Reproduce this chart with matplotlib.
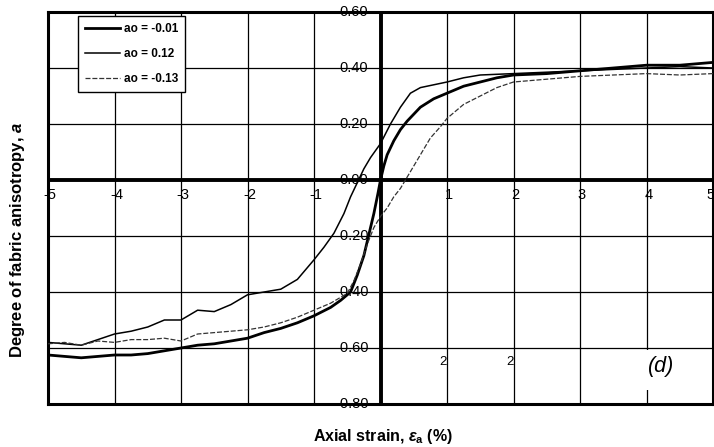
import matplotlib
matplotlib.use("Agg")
from matplotlib import pyplot as plt
from matplotlib import transforms
from matplotlib.patches import Rectangle

plt.rcParams['font.family'] = ['Liberation Sans', 'DejaVu Sans']
plt.rcParams['mathtext.fontset'] = 'custom'
plt.rcParams['mathtext.rm'] = 'Liberation Sans:bold'
plt.rcParams['mathtext.it'] = 'Liberation Sans:italic:bold'

# fabric anisotropy vs axial strain, three initial anisotropies
x_a = [-5, -4.75, -4.5, -4.25, -4, -3.75, -3.5, -3.25, -3, -2.75, -2.5, -2.25,
       -2, -1.75, -1.5, -1.25, -1, -0.75, -0.6, -0.45, -0.35, -0.25, -0.18,
       -0.1, -0.04, 0, 0.05, 0.1, 0.2, 0.3, 0.4, 0.6, 0.8, 1.0, 1.25, 1.5,
       1.75, 2, 2.5, 3, 3.5, 4, 4.5, 5]
a_001 = [-0.625, -0.63, -0.635, -0.63, -0.625, -0.625, -0.62, -0.61, -0.60,
         -0.59, -0.585, -0.575, -0.565, -0.545, -0.53, -0.51, -0.485, -0.455,
         -0.43, -0.40, -0.34, -0.27, -0.20, -0.12, -0.05, 0.0, 0.05, 0.09,
         0.14, 0.18, 0.21, 0.26, 0.29, 0.31, 0.335, 0.35, 0.365, 0.375, 0.38,
         0.39, 0.40, 0.41, 0.41, 0.42]

x_b = [-5, -4.75, -4.5, -4.25, -4, -3.75, -3.5, -3.25, -3, -2.75, -2.5, -2.25,
       -2, -1.75, -1.5, -1.25, -1, -0.85, -0.7, -0.55, -0.45, -0.35, -0.25,
       -0.15, 0, 0.15, 0.3, 0.45, 0.6, 0.8, 1.0, 1.25, 1.5, 2, 2.5, 3, 3.5,
       4, 4.5, 5]
a_012 = [-0.58, -0.585, -0.59, -0.57, -0.55, -0.54, -0.525, -0.50, -0.50,
         -0.465, -0.47, -0.445, -0.41, -0.40, -0.39, -0.355, -0.285, -0.24,
         -0.19, -0.12, -0.06, -0.01, 0.04, 0.08, 0.13, 0.20, 0.26, 0.31, 0.33,
         0.34, 0.35, 0.365, 0.375, 0.38, 0.385, 0.39, 0.395, 0.40, 0.405, 0.40]

x_c = [-5, -4.75, -4.5, -4.25, -4, -3.75, -3.5, -3.25, -3, -2.75, -2.5, -2.25,
       -2, -1.75, -1.5, -1.25, -1, -0.75, -0.5, -0.4, -0.3, -0.2, -0.1, 0,
       0.1, 0.2, 0.3, 0.4, 0.5, 0.6, 0.75, 0.9, 1.0, 1.25, 1.5, 1.75, 2, 2.5,
       3, 3.5, 4, 4.5, 5]
a_m013 = [-0.585, -0.58, -0.59, -0.575, -0.58, -0.57, -0.57, -0.565, -0.575,
          -0.55, -0.545, -0.54, -0.535, -0.525, -0.51, -0.49, -0.465, -0.44,
          -0.405, -0.36, -0.30, -0.23, -0.17, -0.13, -0.10, -0.06, -0.03,
          0.01, 0.05, 0.09, 0.15, 0.19, 0.22, 0.27, 0.30, 0.33, 0.35, 0.36,
          0.37, 0.375, 0.38, 0.375, 0.38]

labels = ['ao = -0.01', 'ao = 0.12', 'ao = -0.13']
xticks = [-5, -4, -3, -2, -1, 1, 2, 3, 4, 5]
yticks = [0.6, 0.4, 0.2, 0.0, -0.2, -0.4, -0.6, -0.8]

fig = plt.figure(figsize=(7.14, 4.47), dpi=100)
ax = fig.add_axes([48 / 714, 1 - 404 / 447, 665 / 714, 392 / 447])
ax.set_xlim(-5, 5)
ax.set_ylim(-0.8, 0.6)
ax.set_xticks([])
ax.set_yticks([])
for s in ax.spines.values():
    s.set_linewidth(2.2)

# grid
for v in range(-4, 5):
    ax.axvline(v, color='black', lw=0.9, zorder=1)
for v in yticks[1:-1]:
    ax.axhline(v, color='black', lw=0.9, zorder=1)
ax.axvline(0, color='black', lw=2.8, zorder=2)
ax.axhline(0, color='black', lw=2.8, zorder=2)

# blank patch behind the panel letter
ax.add_patch(Rectangle((3.71, -0.75), 1.09, 0.143, facecolor='white',
                       edgecolor='none', zorder=1.5))

ax.plot(x_a, a_001, color='black', lw=2.0, label=labels[0], zorder=4)
ax.plot(x_b, a_012, color='black', lw=1.1, label=labels[1], zorder=4)
ax.plot(x_c, a_m013, color='#333333', lw=0.9, ls=(0, (4, 1.5)),
        label=labels[2], zorder=4)

# tick labels sit on the centre axes
ylab_tr = transforms.offset_copy(ax.transData, fig=fig, x=-12, y=0, units='dots')
for v in yticks:
    ax.text(0, v, '%.2f' % v, transform=ylab_tr, ha='right', va='center',
            fontsize=10.5, zorder=3, clip_on=False)
xlab_tr = transforms.offset_copy(ax.transData, fig=fig, x=2, y=-8, units='dots')
for v in xticks:
    ax.text(v, 0, str(v), transform=xlab_tr, ha='right' if v == 5 else 'center',
            va='top', fontsize=10.5, zorder=3, clip_on=False)
for v in [1, 2]:
    ax.text(v, -0.65, '2', ha='right', va='center', fontsize=9.5, zorder=3)

ax.text(4.02, -0.665, '(d)', style='italic', fontsize=15.5, ha='left',
        va='center', zorder=5)

leg = ax.legend(loc='upper left', bbox_to_anchor=(0.045, 0.99), frameon=True,
                fancybox=False, edgecolor='black', framealpha=1,
                prop={'size': 8.5, 'weight': 'bold'}, handlelength=3.0,
                labelspacing=1.1, borderpad=0.6, handletextpad=0.3,
                borderaxespad=0)
leg.get_frame().set_linewidth(1.0)

fig.text(383 / 714, 1 - 437 / 447, r'Axial strain, $\mathit{\epsilon}_{\rm a}$ (%)',
         ha='center', va='center', fontsize=11.5, fontweight='bold')
fig.text(18 / 714, 1 - 240 / 447, 'Degree of fabric anisotropy, $\\mathit{a}$',
         ha='center', va='center', rotation=90, fontsize=12, fontweight='bold')

plt.savefig('out.png', dpi=100)
